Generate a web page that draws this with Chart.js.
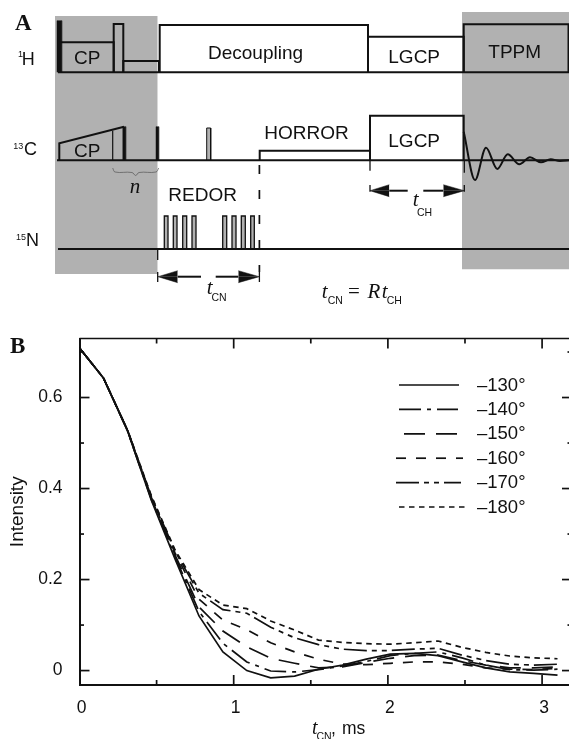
<!DOCTYPE html>
<html>
<head>
<meta charset="utf-8">
<style>
  html, body { margin: 0; padding: 0; width: 569px; height: 739px; overflow: hidden; background: #fff; }
  canvas { position: absolute; left: 0; }
  #pulseChart { top: 0; }
  #decayChart { top: 310px; }
</style>
<script src="https://cdn.jsdelivr.net/npm/chart.js@4"></script>
</head>
<body>
<canvas id="pulseChart" width="569" height="310"></canvas>
<canvas id="decayChart" width="575" height="429"></canvas>
<script>
// Panel B values
var tCN = [0, 0.155, 0.31, 0.465, 0.62, 0.775, 0.93, 1.085, 1.24, 1.395, 1.55, 1.705, 1.86, 2.015, 2.17, 2.325, 2.48, 2.635, 2.79, 2.945, 3.1];
var s130 = [0.709, 0.643, 0.528, 0.375, 0.245, 0.12, 0.041, 0, -0.016, -0.012, 0.003, 0.012, 0.025, 0.036, 0.038, 0.033, 0.019, 0.006, -0.003, -0.006, -0.01];
var s140 = [0.709, 0.643, 0.528, 0.377, 0.25, 0.13, 0.06, 0.019, -0.001, -0.003, 0.002, 0.01, 0.02, 0.033, 0.038, 0.041, 0.028, 0.012, 0.002, 0.001, 0.003];
var s150 = [0.709, 0.643, 0.529, 0.379, 0.254, 0.14, 0.087, 0.052, 0.027, 0.016, 0.006, 0.008, 0.018, 0.027, 0.033, 0.034, 0.022, 0.012, 0.006, 0.006, 0.008];
var s160 = [0.709, 0.643, 0.529, 0.381, 0.258, 0.157, 0.111, 0.09, 0.061, 0.041, 0.025, 0.014, 0.013, 0.016, 0.019, 0.019, 0.014, 0.006, 0.003, 0.002, 0.005];
var s170 = [0.709, 0.643, 0.53, 0.383, 0.262, 0.17, 0.134, 0.126, 0.095, 0.072, 0.057, 0.047, 0.044, 0.044, 0.047, 0.049, 0.034, 0.022, 0.014, 0.012, 0.014];
var s180 = [0.709, 0.643, 0.53, 0.385, 0.265, 0.178, 0.144, 0.136, 0.109, 0.089, 0.067, 0.062, 0.059, 0.058, 0.061, 0.065, 0.051, 0.04, 0.032, 0.028, 0.026];
var angleLabels = ['\u2013130\u00b0', '\u2013140\u00b0', '\u2013150\u00b0', '\u2013160\u00b0', '\u2013170\u00b0', '\u2013180\u00b0'];
var xTicks = [0, 1, 2, 3];
var xMinorTicks = [0.5, 1.5, 2.5];
var yTicks = [0, 0.2, 0.4, 0.6];
var yMinorTicks = [0.1, 0.3, 0.5, 0.7];

// Panel A timing: [start, end, height] above each channel line
var level1H = 237.7, level13C = 149.7, level15N = 61;
var thick1H = [[57, 61.7, 51.6]];
var boxes1H = [[60, 113.7, 30], [113.7, 123.3, 48.3], [123.3, 159, 11.3], [159.7, 368, 47.3], [368, 463.7, 35.6], [463.7, 568.5, 48]];
var thick13C = [[122.7, 125.7, 33.6], [156, 158.7, 33.6]];
var small13C = [[206.7, 210.7, 32.3]];
var boxes13C = [[259.7, 370, 9.6], [370, 463.7, 44.6]];
var ramp13C = [[59.3, 0], [59.3, 17], [124, 33.6]];
var contact13C = [[112.7, 0], [112.7, 29.5]];
var fid = [[463.7, 28.6], [475, -19.7], [486, 12.6], [497.3, -8.7], [507.7, 6], [519.3, -4], [530, 3], [541, -2], [550.7, 1], [560, -0.7], [569, 0]];
var redor15N = [[164.3, 168, 33], [173.3, 177, 33], [182.7, 186.7, 33], [192, 196, 33], [222.7, 226.7, 33], [232, 236, 33], [241.3, 245.3, 33], [250.7, 254.3, 33]];
var grayBands = [[55, 157.7, 36, 294], [462, 569, 40.7, 298]];
var brace = [[112.7, 142], [115, 138], [132, 137.5], [135.7, 134.5], [139, 137.5], [156, 138], [158.7, 142]];
// arrows: [tip, head base, shaft end, level]
var arrows = [[158, 177.7, 201, 33.3], [259.3, 238.3, 215.7, 33.3], [370, 389.3, 407.7, 119.3], [464.3, 443.3, 423.3, 119.3]];
var dashedMark = [[259.4, 145], [259.4, 38]];
var tickMarks = [[[157.7, 61], [157.7, 50]], [[157.7, 38], [157.7, 28]], [[370, 149.7], [370, 139.3]], [[464.3, 149.7], [464.3, 137.3]], [[370, 125], [370, 118.3]], [[464.3, 125], [464.3, 118.3]], [[259.4, 38], [259.4, 28]]];

// text, left, baseline, font
var sans = '19px "Liberation Sans"', sup = '9px "Liberation Sans"', sub = '10.5px "Liberation Sans"';
var ital = 'italic 21px "Liberation Serif"', bold = 'bold 23px "Liberation Serif"';
var diagramText = [
    ['A', 15, 280, bold],
    ['1', 18, 253.3, sup], ['H', 21.7, 245, '18px "Liberation Sans"'],
    ['13', 13.3, 161, sup], ['C', 24, 155, '18px "Liberation Sans"'],
    ['15', 16, 70, sup], ['N', 26, 64.3, '18px "Liberation Sans"'],
    ['CP', 74, 245.7, sans], ['CP', 74, 153.3, sans],
    ['Decoupling', 208, 251, sans],
    ['LGCP', 388.3, 246.7, sans], ['LGCP', 388.3, 162.7, sans],
    ['TPPM', 488.3, 252.3, sans],
    ['HORROR', 264.3, 171, sans], ['REDOR', 168.3, 109, sans],
    ['n', 129.7, 117, ital],
    ['t', 206.7, 16, ital], ['CN', 211.5, 9.3, sub],
    ['t', 412.7, 104.3, ital], ['CH', 417, 94, sub],
    ['t', 321.7, 12.3, ital], ['CN', 327.7, 6, sub],
    ['=', 348, 12.3, '21px "Liberation Serif"'], ['R', 367.5, 12.3, ital],
    ['t', 381.7, 12.3, ital], ['CH', 386.7, 6, sub]
];

var ink = '#111111';
var gray = '#b1b1b1';

function pts(list) {
    return list.map(function (p) { return { x: p[0], y: p[1] }; });
}

function pathSet(list, width, extra) {
    return Object.assign({
        data: pts(list), borderColor: ink, borderWidth: width, pointRadius: 0,
        fill: false, tension: 0, borderCapStyle: 'butt', order: 1
    }, extra || {});
}

function boxSet(p, level, width, color) {
    var outline = [[p[0], level], [p[0], level + p[2]], [p[1], level + p[2]], [p[1], level]];
    var extra = color ? { fill: { target: { value: level } }, backgroundColor: color } : {};
    return pathSet(outline, width, extra);
}

// one half of an arrow head, filled down to the shaft
function headSet(a, side) {
    return pathSet([[a[0], a[3]], [a[1], a[3] + side]], 0.5, {
        fill: { target: { value: a[3] } }, backgroundColor: ink
    });
}

var pulseSets = [];
grayBands.forEach(function (b) {
    pulseSets.push(pathSet([[b[0], b[3]], [b[1], b[3]]], 0, {
        fill: { target: { value: b[2] } }, backgroundColor: gray, order: 5
    }));
});
[level1H, level13C, level15N].forEach(function (lvl, i) {
    pulseSets.push(pathSet([[i == 1 ? 57 : 58, lvl], [569, lvl]], 2));
});
thick1H.forEach(function (p) { pulseSets.push(boxSet(p, level1H, 0.5, ink)); });
boxes1H.forEach(function (p) { pulseSets.push(boxSet(p, level1H, 2)); });
thick13C.forEach(function (p) { pulseSets.push(boxSet(p, level13C, 0.5, ink)); });
small13C.forEach(function (p) { pulseSets.push(boxSet(p, level13C, 1, gray)); });
boxes13C.forEach(function (p) { pulseSets.push(boxSet(p, level13C, 2)); });
pulseSets.push(pathSet(ramp13C.map(function (p) { return [p[0], p[1] + level13C]; }), 2));
pulseSets.push(pathSet(contact13C.map(function (p) { return [p[0], p[1] + level13C]; }), 1.2));
pulseSets.push(pathSet(fid.map(function (p) { return [p[0], p[1] + level13C]; }), 2, { cubicInterpolationMode: 'monotone' }));
redor15N.forEach(function (p) { pulseSets.push(boxSet(p, level15N, 1.3, gray)); });
pulseSets.push(pathSet(brace, 0.7, { tension: 0.4, borderColor: '#555555' }));
pulseSets.push(pathSet(dashedMark, 1.7, { borderDash: [9, 16] }));
tickMarks.forEach(function (t) { pulseSets.push(pathSet(t, 1.3)); });
arrows.forEach(function (a) {
    pulseSets.push(headSet(a, 6));
    pulseSets.push(headSet(a, -6));
    pulseSets.push(pathSet([[a[1], a[3]], [a[2], a[3]]], 2));
});

var diagramTextPlugin = {
    id: 'diagramText',
    afterDraw: function (chart) {
        var c = chart.ctx;
        c.save();
        c.fillStyle = ink;
        c.textBaseline = 'alphabetic';
        diagramText.forEach(function (t) {
            c.font = t[3];
            c.fillText(t[0], chart.scales.x.getPixelForValue(t[1]), chart.scales.y.getPixelForValue(t[2]));
        });
        c.restore();
    }
};

var pulseChart = new Chart(document.getElementById('pulseChart').getContext('2d'), {
    type: 'line',
    data: { datasets: pulseSets },
    options: {
        responsive: false,
        animation: false,
        layout: { padding: 0 },
        plugins: { legend: { display: false }, tooltip: { enabled: false } },
        scales: {
            x: { type: 'linear', min: 0, max: 569, display: false },
            y: { type: 'linear', min: 0, max: 310, display: false }
        }
    },
    plugins: [diagramTextPlugin]
});

// Panel B
var seriesValues = [s130, s140, s150, s160, s170, s180];
var seriesDash = [[], [22, 6, 4, 6], [21, 11], [10, 10], [23, 5, 5, 5, 5, 5], [5.5, 4.5]];
var legendSpans = [[399, 459], [399, 458], [404, 457], [396, 463], [396, 461], [399, 465]];

function tickLabel(v) {
    return v === 0 ? '0' : String(v);
}

var framePlugin = {
    id: 'frame',
    afterDraw: function (chart) {
        var c = chart.ctx, a = chart.chartArea, sx = chart.scales.x, sy = chart.scales.y;
        c.save();
        c.strokeStyle = ink;
        c.fillStyle = ink;
        c.lineWidth = 1.7;
        function seg(x1, y1, x2, y2) {
            c.beginPath(); c.moveTo(x1, y1); c.lineTo(x2, y2); c.stroke();
        }
        seg(a.left, a.top, a.right, a.top);
        seg(a.right, a.top, a.right, a.bottom);
        function xMarks(list, len) {
            list.forEach(function (v) {
                var p = sx.getPixelForValue(v);
                seg(p, a.bottom, p, a.bottom - len);
                seg(p, a.top, p, a.top + len);
            });
        }
        function yMarks(list, len) {
            list.forEach(function (v) {
                var p = sy.getPixelForValue(v);
                seg(a.left, p, a.left + len, p);
                seg(a.right, p, a.right - len, p);
            });
        }
        xMarks(xTicks.slice(1), 10);
        xMarks(xMinorTicks, 5);
        yMarks(yTicks, 10);
        yMarks(yMinorTicks, 4.5);

        // legend
        c.font = '18.5px "Liberation Sans"';
        c.textBaseline = 'alphabetic';
        angleLabels.forEach(function (label, i) {
            var y = 75 + i * 24.4;
            c.lineWidth = 1.7;
            c.setLineDash(seriesDash[i]);
            seg(legendSpans[i][0], y, legendSpans[i][1], y);
            c.setLineDash([]);
            c.fillText(label, 477, y + 5.5);
        });

        // x title, mixed fonts
        c.font = 'italic 20px "Liberation Serif"';
        c.fillText('t', 312, 424);
        c.font = '10.5px "Liberation Sans"';
        c.fillText('CN', 316.5, 430);
        c.font = '17.5px "Liberation Sans"';
        c.fillText(',', 331, 424);
        c.fillText('ms', 342, 424);
        c.font = 'bold 23px "Liberation Serif"';
        c.fillText('B', 10, 42.5);
        c.restore();
    }
};

var decayChart = new Chart(document.getElementById('decayChart').getContext('2d'), {
    type: 'line',
    data: {
        labels: tCN,
        datasets: seriesValues.map(function (vals, i) {
            return {
                label: angleLabels[i],
                data: vals.map(function (v, j) { return { x: tCN[j], y: v }; }),
                borderColor: ink,
                borderWidth: 1.7,
                borderDash: seriesDash[i],
                pointRadius: 0,
                tension: 0,
                fill: false
            };
        })
    },
    options: {
        responsive: false,
        animation: false,
        layout: { padding: { top: 28.5, right: 3, left: 0, bottom: 0 } },
        plugins: { legend: { display: false }, tooltip: { enabled: false } },
        scales: {
            x: {
                type: 'linear', min: 0, max: 3.194,
                afterFit: function (s) { s.height = 54; },
                afterBuildTicks: function (s) { s.ticks = xTicks.map(function (v) { return { value: v }; }); },
                grid: { display: false },
                border: { color: ink, width: 2 },
                ticks: {
                    callback: tickLabel, autoSkip: false, maxRotation: 0, padding: 5, labelOffset: 2,
                    color: ink, font: { family: 'Liberation Sans', size: 17.5 }
                }
            },
            y: {
                type: 'linear', min: -0.0317, max: 0.7297,
                afterFit: function (s) { s.width = 79.5; },
                afterBuildTicks: function (s) { s.ticks = yTicks.map(function (v) { return { value: v }; }); },
                grid: { display: false },
                border: { color: ink, width: 2 },
                title: {
                    display: true, text: 'Intensity', color: ink, padding: { top: 6, bottom: 0 },
                    font: { family: 'Liberation Sans', size: 19 }
                },
                ticks: {
                    callback: tickLabel, autoSkip: false, padding: 9,
                    color: ink, font: { family: 'Liberation Sans', size: 17.5 }
                }
            }
        }
    },
    plugins: [framePlugin]
});
</script>
</body>
</html>
